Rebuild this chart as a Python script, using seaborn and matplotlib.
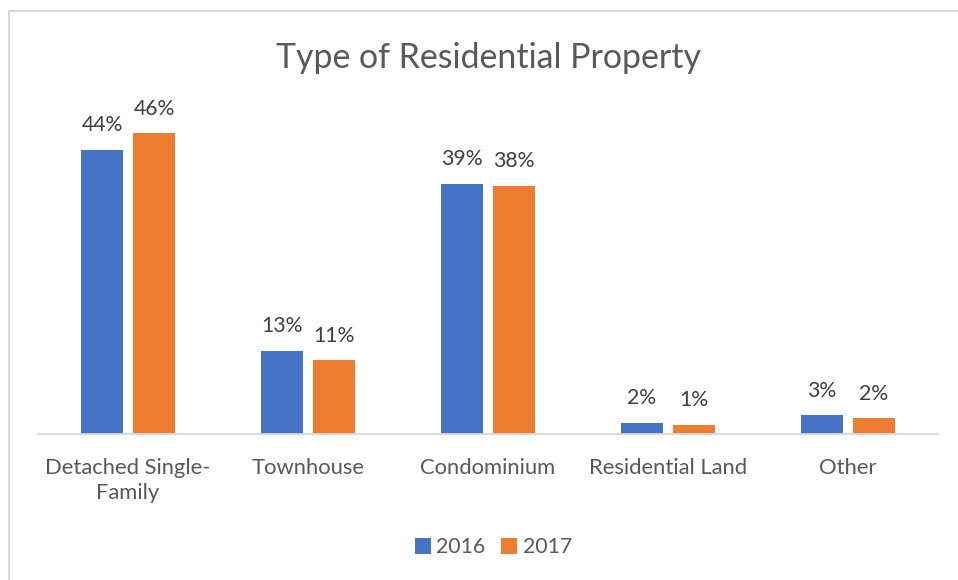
import matplotlib
matplotlib.use("Agg")
import matplotlib.pyplot as plt
from matplotlib.lines import Line2D
import seaborn as sns
import pandas as pd

# Share of sales by residential property type
categories = ["Detached Single-\nFamily", "Townhouse", "Condominium", "Residential Land", "Other"]
years = ["2016", "2017"]
share_2016 = [43.9, 12.8, 38.6, 1.7, 2.9]
share_2017 = [46.4, 11.4, 38.3, 1.4, 2.4]

colors = {"2016": "#4472C4", "2017": "#ED7D31"}
title = "Type of Residential Property"

df = pd.DataFrame({
    "category": categories * 2,
    "year": [years[0]] * len(categories) + [years[1]] * len(categories),
    "share": share_2016 + share_2017,
})

sns.set_theme(style="white")
plt.rcParams["font.family"] = ["Lato", "DejaVu Sans"]

W, H = 958, 580
fig = plt.figure(figsize=(W / 100, H / 100), dpi=100)
fig.patch.set_facecolor("white")

# axes placed in pixel terms: left, bottom, width, height
left, right, top, bottom = 38, 938, 110, 434
ax = fig.add_axes([left / W, 1 - bottom / H, (right - left) / W, (bottom - top) / H])

sns.barplot(data=df, x="category", y="share", hue="year", order=categories,
            hue_order=years, palette=colors, width=0.578, gap=0.21,
            linewidth=0, saturation=1, ax=ax, legend=False)

ax.set_ylim(0, 50)
ax.set_xlim(-0.5, len(categories) - 0.5)
ax.set_xlabel("")
ax.set_ylabel("")
ax.set_yticks([])
for side in ["left", "right", "top"]:
    ax.spines[side].set_visible(False)
ax.spines["bottom"].set_color("#D9D9D9")
ax.spines["bottom"].set_linewidth(1.3)
ax.tick_params(axis="x", length=0, pad=17, labelsize=15.8, labelcolor="#595959")
for lbl in ax.get_xticklabels():
    lbl.set_linespacing(1.36)
    lbl.set_va("top")

for cont in ax.containers:
    ax.bar_label(cont, labels=[f"{v:.0f}%" for v in cont.datavalues],
                 padding=10.5, fontsize=15.3, color="#404040")

fig.text(489 / W, 1 - 68.5 / H, title, ha="center", va="baseline",
         fontsize=24.4, color="#595959")

handles = [Line2D([0], [0], marker="s", linestyle="", markersize=11,
                  markerfacecolor=colors[y], markeredgewidth=0) for y in years]
fig.legend(handles, years, loc="center", bbox_to_anchor=(493 / W, 1 - 547 / H),
           ncol=2, frameon=False, fontsize=15.3, labelcolor="#595959",
           handlelength=0.8, handletextpad=0.25, columnspacing=0.7)

# chart frame: thin grey rule along top and left edges
fig.add_artist(Line2D([8.5 / W, 1], [1 - 10.5 / H, 1 - 10.5 / H], color="#D9D9D9",
                      linewidth=1.5, transform=fig.transFigure))
fig.add_artist(Line2D([8.5 / W, 8.5 / W], [0, 1 - 10.5 / H], color="#D9D9D9",
                      linewidth=1.5, transform=fig.transFigure))

fig.savefig("out.png", dpi=100, facecolor="white")
